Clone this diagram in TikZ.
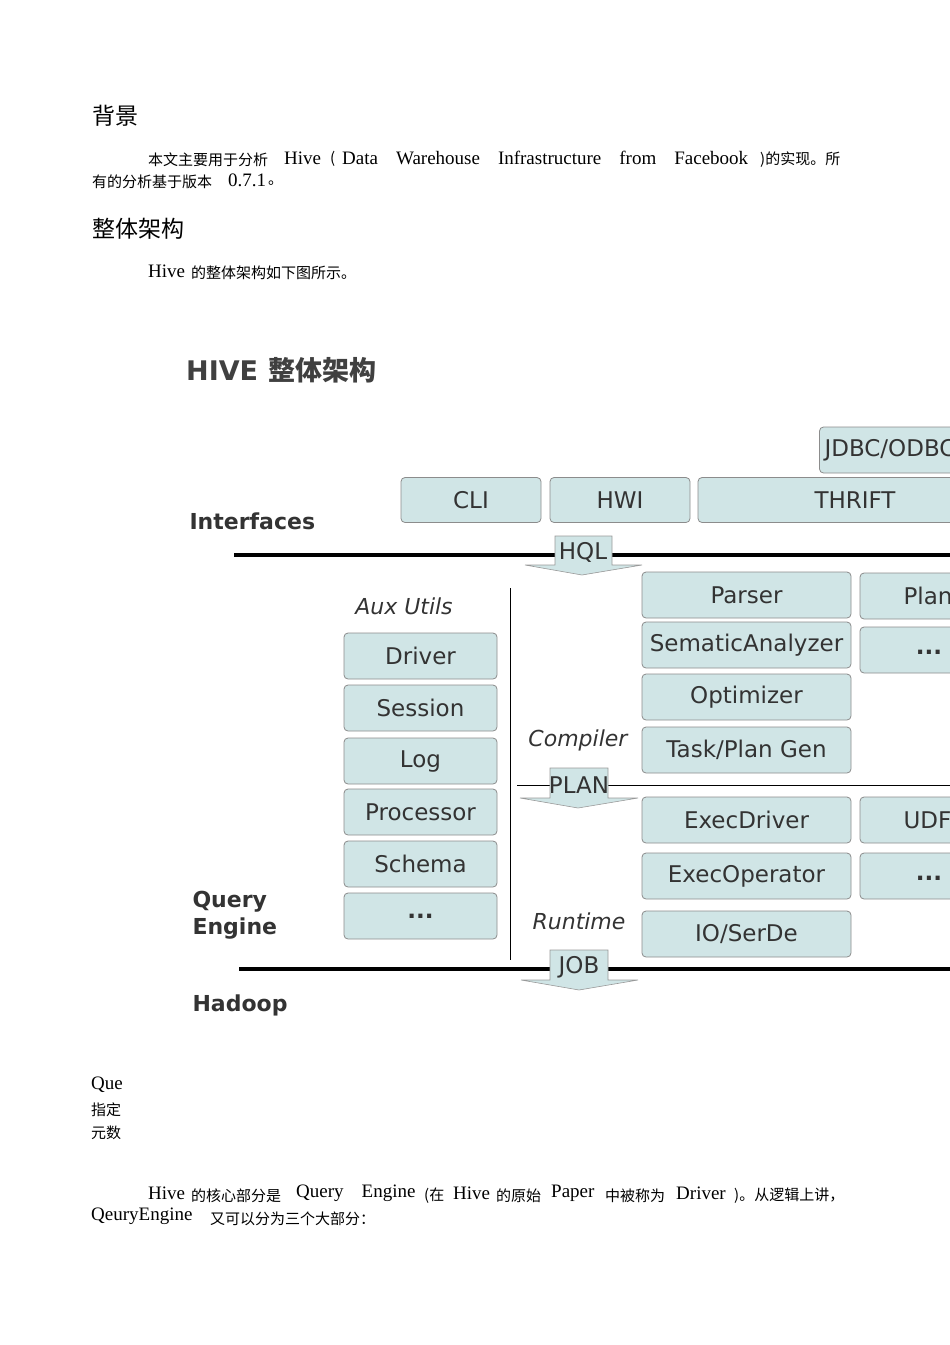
\documentclass[tikz,border=0pt]{standalone}
\usepackage{fontspec}
\newfontfamily\cjk{Noto Sans CJK SC}
\newfontfamily\dv{DejaVu Sans}
\newfontfamily\lser{Liberation Serif}
\definecolor{bf}{RGB}{208,229,230}
\begin{document}
\begin{tikzpicture}[x=1pt,y=-1pt,
  box/.style={draw=black!45,fill=bf,rounded corners=4pt,line width=0.8pt},
  bt/.style={font=\dv\fontsize{23}{25}\selectfont,text=black!80},
  ti/.style={font=\dv\fontsize{22}{24}\selectfont\itshape,text=black!80},
  lbl/.style={font=\dv\bfseries\fontsize{22}{27}\selectfont,text=black!80,anchor=west,align=left},
  arr/.style={fill=bf,draw=black!40,line width=0.6pt},
  body/.style={anchor=west,inner sep=0pt,font=\cjk\fontsize{15}{17}\selectfont},
  ser/.style={font=\lser\fontsize{19}{21}\selectfont}]
\useasboundingbox (0,0) rectangle (950,1345);
\clip (0,0) rectangle (950,1345);
% text
\node[body,font=\cjk\fontsize{23}{26}\selectfont] (h1) at (92,116) {背景};
\node[body] (t1) at (148,160) {本文主要用于分析};
\node[body,ser] (t1b) at (284,158) {Hive};
\node[body] at (330,159) {(};
\node[body,ser] at (342,158) {Data\hspace{18pt}Warehouse\hspace{18pt}Infrastructure\hspace{18pt}from\hspace{18pt}Facebook};
\node[body] at (760,160) {)的实现。所};
\node[body] (t2) at (92,182) {有的分析基于版本};
\node[body,ser] at (228,180) {0.7.1};
\node[body] at (268,183) {。};
\node[body,font=\cjk\fontsize{23}{26}\selectfont] (h2) at (92,229) {整体架构};
\node[body,ser] (t3) at (148,271) {Hive};
\node[body] at (191,273) {的整体架构如下图所示。};
% diagram title
\node[anchor=west,inner sep=0pt,font=\bfseries\fontsize{27}{30}\selectfont,text=black!75] (title) at (186,370) {{\dv HIVE} {\cjk\bfseries 整体架构}};
% interfaces
\node[box,bt,minimum width=141pt,minimum height=46pt] (jdbc) at (890,450) {JDBC/ODBC};
\node[box,bt,minimum width=140pt,minimum height=45pt] (cli) at (471,500) {CLI};
\node[box,bt,minimum width=140pt,minimum height=45pt] (hwi) at (620,500) {HWI};
\node[box,bt,minimum width=262pt,minimum height=45pt] (thrift) at (829,500) {};
\node[bt] at (855,500) {THRIFT};
\node[lbl] (intf) at (186,521) {Interfaces};
\draw[line width=4pt] (234,555) -- (960,555);
% HQL arrow
\draw[arr] (555,536) -- (612,536) -- (612,565) -- (642,565) -- (582,575) -- (525,565) -- (555,565) -- cycle;
\node[bt] (hql) at (583,552) {HQL};
% aux utils
\node[ti] (aux) at (404,606) {Aux Utils};
\foreach \n/\t/\y in {drv/Driver/656,ses/Session/708,log/Log/761,proc/Processor/812,sch/Schema/864}
  \node[box,bt,minimum width=153pt,minimum height=46pt] (\n) at (420.5,\y) {\t};
\node[box,bt,minimum width=153pt,minimum height=46pt] (dots1) at (420.5,916) {\textbf{...}};
\draw[line width=1pt] (510,588) -- (510,960);
% compiler
\foreach \n/\t/\y in {par/Parser/595,sem/SematicAnalyzer/645,opt/Optimizer/697,tpg/Task\slash Plan Gen/750}
  \node[box,bt,minimum width=209pt,minimum height=46pt] (\n) at (746.5,\y) {\t};
\node[box,minimum width=120pt,minimum height=46pt] (plan) at (920,596) {};
\node[bt,anchor=west] at (900,596) {Plan};
\node[box,bt,minimum width=120pt,minimum height=46pt] (dots2) at (920,650) {};
\node[bt] at (929,652) {\textbf{...}};
\node[ti] (comp) at (578,740) {Compiler};
\draw[line width=1pt] (517,785) -- (960,785);
\draw[arr] (550,768) -- (608,768) -- (608,798) -- (638,798) -- (578,808) -- (520,798) -- (550,798) -- cycle;
\node[bt] (planl) at (579,785) {PLAN};
% runtime
\foreach \n/\t/\y in {exd/ExecDriver/820,exo/ExecOperator/876,io/IO\slash SerDe/934}
  \node[box,bt,minimum width=209pt,minimum height=46pt] (\n) at (746.5,\y) {\t};
\node[box,minimum width=120pt,minimum height=46pt] (udf) at (920,820) {};
\node[bt,anchor=west] at (900,820) {UDF};
\node[box,minimum width=120pt,minimum height=46pt] (dots3) at (920,876) {};
\node[bt] at (929,878) {\textbf{...}};
\node[ti] (rt) at (579,921) {Runtime};
\node[lbl] (qe) at (189,915) {Query\\Engine};
\draw[line width=4pt] (239,969) -- (960,969);
\draw[arr] (550,950) -- (608,950) -- (608,980) -- (638,980) -- (579,990) -- (521,980) -- (550,980) -- cycle;
\node[bt] (job) at (579,967) {JOB};
\node[lbl] (had) at (189,1005) {Hadoop};
% fragments
\node[body,ser] at (91,1085) {Que};
\node[body] at (91,1110) {指定};
\node[body] at (91,1133) {元数};
% bottom text
\node[body,ser] (b1) at (148,1193) {Hive};
\node[body] at (191,1196) {的核心部分是};
\node[body,ser] at (296,1193) {Query\hspace{18pt}Engine};
\node[body] at (424,1196) {(在};
\node[body,ser] at (453,1193) {Hive};
\node[body] at (496,1196) {的原始};
\node[body,ser] at (551,1193) {Paper};
\node[body] at (605,1196) {中被称为};
\node[body,ser] at (676,1193) {Driver};
\node[body] at (734,1196) {)。从逻辑上讲，};
\node[body,ser] (b2) at (91,1216) {QeuryEngine};
\node[body] at (210,1219) {又可以分为三个大部分：};
\end{tikzpicture}
\end{document}
